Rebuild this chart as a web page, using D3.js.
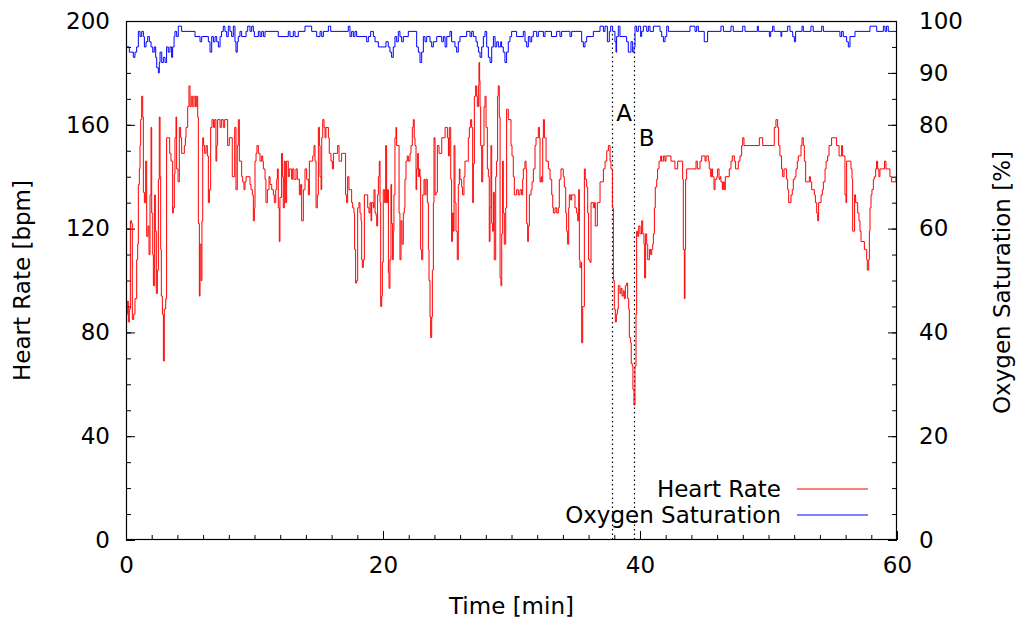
<!DOCTYPE html>
<html><head><meta charset="utf-8">
<script src="https://cdn.jsdelivr.net/npm/d3@7"></script>
<style>html,body{margin:0;padding:0;background:#fff;}svg{display:block;font-family:"DejaVu Sans",sans-serif;}</style>
</head><body>
<svg id="chart" width="1018" height="621"></svg>
<script>
// ---- data ----
const hrTime = [0.00,0.10,0.18,0.26,0.34,0.44,0.49,0.60,0.70,0.83,0.91,0.96,1.04,1.09,1.14,1.22,1.30,1.35,1.43,1.53,1.61,1.71,1.79,1.87,1.95,2.00,2.08,2.13,2.23,2.28,2.36,2.44,2.52,2.59,2.65,2.70,2.75,2.83,2.91,2.98,3.09,3.16,3.40,3.50,3.63,3.68,3.76,3.81,3.89,3.94,4.05,4.15,4.25,4.33,4.54,4.62,4.67,4.80,4.90,4.98,5.08,5.19,5.29,5.40,5.50,5.58,5.63,5.71,5.76,5.84,5.91,5.97,6.04,6.12,6.23,6.33,6.41,6.49,6.59,6.69,6.80,6.90,7.00,7.06,7.13,7.32,7.42,7.57,7.68,7.91,8.04,8.27,8.46,8.56,8.66,8.74,8.82,9.00,9.08,9.18,9.26,9.34,9.65,9.73,9.83,9.91,9.99,10.04,10.12,10.19,10.30,10.43,10.56,10.64,10.69,10.82,10.89,11.00,11.13,11.21,11.34,11.47,11.54,11.65,11.73,11.78,11.85,11.93,11.98,12.11,12.17,12.24,12.32,12.40,12.50,12.63,12.71,12.89,12.97,13.07,13.23,13.33,13.49,13.59,13.67,13.80,13.93,14.06,14.19,14.27,14.53,14.63,14.71,14.79,14.89,14.97,15.05,15.10,15.18,15.23,15.31,15.41,15.49,15.56,15.75,15.82,15.95,16.06,16.14,16.47,16.58,16.78,17.09,17.17,17.25,17.35,17.56,17.64,17.74,17.79,17.87,17.95,18.03,18.13,18.21,18.29,18.34,18.39,18.47,18.55,18.81,18.91,18.99,19.07,19.12,19.25,19.30,19.38,19.46,19.51,19.58,19.64,19.71,19.77,19.82,19.90,19.95,20.02,20.13,20.21,20.28,20.36,20.42,20.47,20.54,20.62,20.67,20.75,20.80,20.85,20.93,21.01,21.06,21.25,21.32,21.40,21.48,21.58,21.66,21.71,21.79,21.89,21.97,22.10,22.18,22.28,22.36,22.43,22.49,22.57,22.62,22.70,22.75,22.83,22.88,22.93,23.01,23.09,23.19,23.27,23.35,23.45,23.53,23.58,23.66,23.71,23.79,23.84,23.92,23.97,24.05,24.13,24.23,24.36,24.57,24.83,25.01,25.09,25.16,25.27,25.34,25.40,25.47,25.53,25.60,25.68,25.78,25.86,25.94,25.99,26.12,26.19,26.30,26.38,26.64,26.72,26.82,26.90,26.98,27.03,27.11,27.21,27.29,27.34,27.42,27.47,27.52,27.55,27.60,27.68,27.76,27.86,27.94,28.02,28.12,28.20,28.27,28.33,28.40,28.46,28.53,28.59,28.66,28.77,28.84,28.92,28.97,29.05,29.11,29.18,29.24,29.31,29.36,29.44,29.55,29.62,29.75,29.96,30.04,30.14,30.22,30.40,30.53,30.66,30.79,30.87,30.92,31.05,31.13,31.18,31.26,31.31,31.39,31.52,31.60,31.70,31.83,31.91,32.09,32.17,32.22,32.30,32.35,32.43,32.48,32.56,32.69,32.87,33.00,33.13,33.21,33.26,33.39,33.52,33.64,33.72,33.85,34.03,34.11,34.22,34.29,34.37,34.45,34.50,34.61,34.68,34.94,35.07,35.15,35.23,35.28,35.33,35.41,35.46,35.54,35.67,35.74,35.85,35.93,36.00,36.11,36.19,36.37,36.45,36.52,36.68,36.89,37.15,37.28,37.41,37.54,37.67,37.74,37.85,37.93,38.00,38.08,38.16,38.24,38.31,38.44,38.52,38.60,38.70,38.78,38.86,38.96,39.04,39.12,39.17,39.27,39.32,39.40,39.45,39.53,39.61,39.69,39.74,39.82,39.90,40.00,40.13,40.21,40.31,40.36,40.44,40.52,40.60,40.73,40.83,40.91,40.99,41.04,41.12,41.19,41.30,41.37,41.48,41.61,41.68,41.82,41.94,42.02,42.41,42.72,42.93,43.32,43.37,43.45,43.50,43.55,43.63,44.36,44.46,44.67,44.80,45.06,45.14,45.32,45.39,45.50,45.58,45.65,45.76,45.84,45.97,46.04,46.15,46.23,46.30,46.41,46.48,46.56,46.64,46.95,47.08,47.18,47.34,47.44,47.65,47.78,47.91,47.99,48.09,49.29,49.55,50.45,50.58,50.71,50.79,50.89,51.02,51.10,51.21,51.41,51.49,51.57,51.75,51.85,51.93,52.06,52.14,52.24,52.32,52.53,52.61,52.71,52.79,52.89,53.18,53.26,53.36,53.57,53.65,53.75,53.83,53.90,54.09,54.19,54.27,54.40,54.48,54.60,54.71,54.91,55.30,55.49,55.69,55.77,55.95,56.03,56.08,56.42,56.50,56.55,56.65,56.70,56.78,56.94,57.04,57.12,57.20,57.46,57.64,57.69,57.80,57.85,57.90,57.98,58.05,58.16,58.23,58.34,58.41,58.49,58.59,58.67,59.03,59.14,59.45,59.58,59.92,60.00];
const hrValue = [87,92,84,89,123,122,85,87,93,108,114,137,143,152,162,171,163,134,130,146,117,121,110,133,159,126,110,98,133,119,95,104,139,163,140,112,94,87,69,89,93,155,149,146,126,128,141,155,163,143,138,159,155,149,152,155,159,167,175,167,171,167,171,167,171,163,122,94,114,100,123,155,152,149,152,148,130,135,159,162,159,162,146,152,162,159,162,159,162,152,155,140,159,135,152,162,146,140,138,135,138,140,137,135,133,123,128,146,149,152,149,146,148,146,143,139,130,135,140,137,135,133,130,135,139,143,128,115,132,149,140,128,146,130,146,140,143,139,143,139,143,139,133,137,123,135,143,139,133,146,148,152,146,128,133,159,152,140,135,155,162,159,155,159,155,149,146,143,149,152,146,149,133,130,140,135,130,128,126,112,99,100,128,130,126,123,108,105,108,133,128,126,130,123,130,128,135,126,125,121,133,140,146,130,90,94,107,135,130,152,130,135,103,97,108,137,122,108,119,133,155,159,152,126,108,123,114,126,128,139,146,148,146,149,152,159,162,155,152,135,143,149,140,143,140,112,108,133,139,133,139,130,112,100,86,78,86,104,130,155,133,134,152,149,155,159,155,148,159,139,115,126,119,152,130,119,108,137,143,139,136,133,140,146,155,159,162,159,130,145,171,175,171,167,175,184,177,167,152,138,152,167,171,159,143,140,115,128,152,122,119,134,108,140,146,171,175,163,101,98,118,146,126,114,128,166,162,152,148,140,133,135,133,135,133,139,143,146,143,122,115,121,133,135,138,143,152,155,159,155,138,140,138,155,162,155,146,143,139,133,128,126,128,126,128,139,143,140,136,126,119,114,128,133,131,133,128,126,123,135,108,105,107,76,90,143,139,136,126,108,107,130,128,130,121,130,138,143,146,150,152,146,143,128,100,89,84,87,89,98,95,97,94,96,93,98,99,93,89,78,76,68,67,58,52,67,87,119,117,121,118,123,118,114,101,118,114,108,112,110,112,114,118,128,136,139,143,146,148,146,148,146,148,146,143,146,139,112,93,112,139,143,146,143,146,148,146,148,146,143,140,143,140,135,139,140,143,139,140,138,135,138,135,140,143,146,148,146,143,146,148,152,155,152,155,152,159,162,159,152,148,143,140,143,139,135,130,133,135,139,140,143,146,148,152,155,152,146,138,140,138,135,133,130,126,123,130,133,135,138,143,146,148,152,155,152,148,152,148,133,130,146,143,139,119,119,133,130,126,123,119,115,112,108,104,108,119,128,133,135,139,140,143,146,143,140,143,146,143,140,138,140,140];

const spo2Time = [0.00,0.26,0.57,0.70,0.83,0.96,1.09,1.22,1.35,1.43,1.56,1.69,1.82,1.95,2.08,2.20,2.31,2.39,2.52,2.59,2.65,2.78,2.91,3.04,3.16,3.29,3.42,3.55,3.63,3.74,3.81,3.94,4.07,4.33,5.37,5.76,5.89,6.41,6.54,6.67,6.80,6.93,7.06,7.19,7.32,7.44,7.57,7.70,7.83,7.96,8.09,8.22,8.35,8.48,8.56,8.66,8.74,8.87,9.00,9.34,9.47,9.65,9.78,9.91,9.99,10.30,10.43,10.56,10.69,10.82,11.85,12.63,12.76,13.02,13.15,13.41,13.93,14.45,14.84,15.10,15.23,15.36,15.75,15.93,17.30,17.43,17.56,17.69,17.82,17.95,18.73,18.86,19.04,19.25,19.38,19.64,20.23,20.41,20.54,20.67,20.80,20.93,21.06,21.19,21.32,21.45,21.58,21.97,22.62,22.75,22.88,23.01,23.14,23.27,23.40,23.66,23.79,23.92,24.18,24.57,24.70,24.83,24.96,25.21,25.34,25.60,25.73,25.86,25.99,26.51,26.77,26.90,27.03,27.24,27.34,27.44,27.55,27.68,27.81,27.94,28.07,28.20,28.33,28.46,28.59,28.72,28.85,28.98,29.16,29.23,29.36,29.49,29.62,29.75,29.88,30.01,30.40,30.92,31.05,31.18,31.31,31.44,31.57,31.70,31.96,32.09,32.48,32.61,33.11,33.51,33.77,33.90,34.55,34.68,35.46,35.59,35.72,35.85,36.37,36.89,37.15,37.28,37.46,37.61,37.72,37.87,38.05,38.13,38.18,38.31,38.44,38.96,39.09,39.30,39.43,39.53,39.61,39.74,39.87,40.05,40.13,40.26,40.52,40.65,40.78,41.04,41.56,41.69,41.82,41.95,42.08,42.21,43.89,44.28,44.41,44.54,45.00,45.26,46.30,46.49,47.08,47.26,47.99,48.17,49.13,49.21,50.07,50.17,50.32,50.43,50.97,51.03,51.49,51.67,51.88,52.01,52.11,52.61,52.71,53.30,53.48,54.14,54.27,55.56,55.69,55.82,56.08,56.21,56.34,56.73,57.90,58.42,58.94,59.07,59.19,59.32,60.00];
const spo2Value = [95,94,93,94,95,98,97,98,97,95,96,97,96,95,94,95,93,91,90,92,94,92,93,92,95,94,95,93,95,97,98,97,99,98,97,96,97,96,94,97,96,97,96,95,97,98,99,98,97,99,98,97,99,96,94,96,97,98,97,98,99,98,99,98,97,98,97,98,97,98,97,98,97,98,97,98,99,98,97,98,97,98,99,98,99,97,98,97,98,97,96,97,98,97,96,95,96,95,94,93,95,97,96,98,97,96,97,98,95,94,92,94,97,96,97,96,95,96,97,96,97,95,97,98,96,95,94,96,97,98,97,98,97,96,95,94,93,95,97,98,95,93,92,95,97,95,96,95,96,95,94,92,94,96,97,98,97,98,96,95,97,96,97,98,97,98,97,98,97,98,97,98,97,98,96,95,96,97,98,99,98,99,96,98,99,98,96,94,97,99,97,96,94,96,94,95,99,98,99,97,98,99,98,99,98,99,98,97,96,97,99,98,99,98,99,98,96,98,99,98,99,98,99,98,99,98,97,98,99,98,97,98,99,98,97,96,98,99,98,99,98,99,98,97,98,97,96,95,97,98,99,98,99,98,99,98,98];

const xTickLabels = [0, 20, 40, 60];
const yTickLabels = [0, 40, 80, 120, 160, 200];
const y2TickLabels = [0, 20, 40, 60, 80, 90, 100];
const markerTimes = [37.84, 39.56];
const markerTop = 195;
const markerLabels = ["A", "B"];
const markerLabelPos = [[38.15, 161.5], [39.9, 152]];
const seriesNames = ["Heart Rate", "Oxygen Saturation"];
const seriesColors = ["#ff0000", "#0000ff"];

// ---- chart ----
const svg = d3.select("#chart");
const L = 126, R = 897, T = 21, B = 540;
const x = d3.scaleLinear().domain([0, 60]).range([L, R]);
const y = d3.scaleLinear().domain([0, 200]).range([B, T]);
const y2 = d3.scaleLinear().domain([0, 100]).range([B, T]);
const FS = 23;

const hrData = hrTime.map((t, i) => ({t, v: hrValue[i]}));
const spData = spo2Time.map((t, i) => ({t, v: spo2Value[i]}));

// minor ticks
const minor = (g) => g.call(s => s.select(".domain").remove());
svg.append("g").attr("transform", `translate(0,${B})`)
  .call(d3.axisBottom(x).tickValues(d3.range(0, 61, 2)).tickSize(-5).tickFormat(""))
  .call(minor);
svg.append("g").attr("transform", `translate(${L},0)`)
  .call(d3.axisLeft(y).tickValues(d3.range(0, 201, 10)).tickSize(-5).tickFormat(""))
  .call(minor);
svg.append("g").attr("transform", `translate(${R},0)`)
  .call(d3.axisRight(y2).tickValues(d3.range(0, 101, 5)).tickSize(-5).tickFormat(""))
  .call(minor);

// major ticks with labels
const gx = svg.append("g").attr("transform", `translate(0,${B})`)
  .call(d3.axisBottom(x).tickValues(xTickLabels).tickSize(-9).tickPadding(17).tickFormat(d3.format("d")));
const gy = svg.append("g").attr("transform", `translate(${L},0)`)
  .call(d3.axisLeft(y).tickValues(yTickLabels).tickSize(-9).tickPadding(16).tickFormat(d3.format("d")));
const gy2 = svg.append("g").attr("transform", `translate(${R},0)`)
  .call(d3.axisRight(y2).tickValues(y2TickLabels).tickSize(-9).tickPadding(22).tickFormat(d3.format("d")));
[gx, gy, gy2].forEach(g => {
  g.select(".domain").remove();
  g.selectAll("text").attr("font-size", FS).attr("font-family", "DejaVu Sans").attr("fill", "#000");
});
svg.selectAll(".tick line").attr("stroke", "#000");

// marker lines (dotted)
svg.append("g").selectAll("line").data(markerTimes).join("line")
  .attr("x1", d => Math.round(x(d)) + 0.5).attr("x2", d => Math.round(x(d)) + 0.5)
  .attr("y1", y(markerTop)).attr("y2", y(0))
  .attr("stroke", "#000").attr("stroke-width", 1.2).attr("stroke-dasharray", "1.5,3");

// series
svg.append("path").datum(hrData)
  .attr("d", d3.line().x(d => x(d.t)).y(d => y(d.v)).curve(d3.curveStepAfter))
  .attr("fill", "none").attr("stroke", seriesColors[0]).attr("stroke-width", 1);
svg.append("path").datum(spData)
  .attr("d", d3.line().x(d => x(d.t)).y(d => y2(d.v)).curve(d3.curveStepAfter))
  .attr("fill", "none").attr("stroke", seriesColors[1]).attr("stroke-width", 1);

// marker labels
svg.append("g").selectAll("text").data(markerLabels).join("text")
  .attr("x", (d, i) => x(markerLabelPos[i][0]))
  .attr("y", (d, i) => y(markerLabelPos[i][1]))
  .attr("font-size", FS).attr("fill", "#000").text(d => d);

// border
svg.append("rect").attr("x", L + 0.5).attr("y", T + 0.5)
  .attr("width", R - L - 1).attr("height", B - T - 1)
  .attr("fill", "none").attr("stroke", "#000").attr("stroke-width", 1.2);

// axis titles
svg.append("text").attr("x", (L + R) / 2).attr("y", 614).attr("text-anchor", "middle")
  .attr("font-size", FS).text("Time [min]");
svg.append("text").attr("transform", `translate(30,${(T + B) / 2}) rotate(-90)`)
  .attr("text-anchor", "middle").attr("font-size", FS).text("Heart Rate [bpm]");
svg.append("text").attr("transform", `translate(1010,${(T + B) / 2 + 2}) rotate(-90)`)
  .attr("text-anchor", "middle").attr("font-size", FS).text("Oxygen Saturation [%]");

// legend
const lg = svg.append("g");
seriesNames.forEach((name, i) => {
  const yy = 489 + i * 26;
  lg.append("text").attr("x", 781).attr("y", yy + 8).attr("text-anchor", "end")
    .attr("font-size", FS).text(name);
  lg.append("line").attr("x1", 797).attr("x2", 868).attr("y1", yy).attr("y2", yy)
    .attr("stroke", seriesColors[i]).attr("stroke-width", 1.2);
});
</script>
</body></html>
